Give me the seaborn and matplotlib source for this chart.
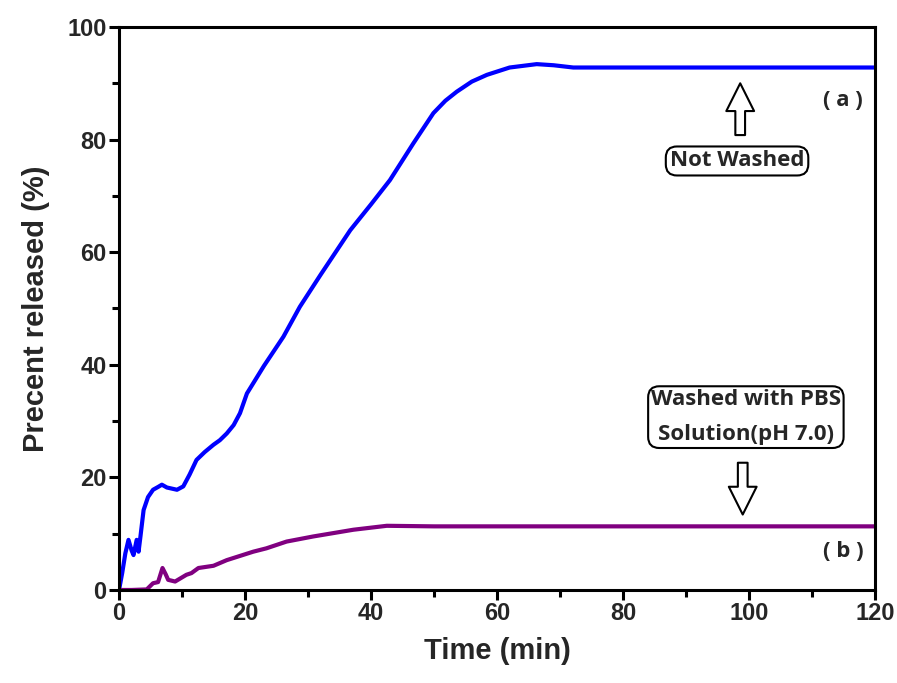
import numpy as np
import pandas as pd
import matplotlib
matplotlib.use("Agg")
import matplotlib.pyplot as plt
import seaborn as sns

# Data
time_a = [0, 0.5, 1.0, 1.5, 2.0, 2.3, 2.8, 3.1, 3.4, 3.9, 4.6, 5.4, 6.2, 6.8, 7.6, 8.4, 9.2, 10.2,
          11.2, 12.3, 13.6, 15.0, 16.0, 17.1, 18.2, 19.2, 20.3, 23.0, 26.1, 28.7, 32.0, 36.7, 40.0,
          43.0, 46.7, 49.9, 51.8, 53.6, 56.0, 58.4, 62.0, 66.3, 69.0, 72.1, 80.0, 90.0, 100.0, 110.0, 120.0]
rel_a = [0, 3.0, 6.5, 8.9, 7.0, 6.2, 8.9, 6.8, 9.5, 14.2, 16.5, 17.8, 18.3, 18.7, 18.2, 18.0, 17.8, 18.4,
         20.5, 23.1, 24.5, 25.8, 26.6, 27.8, 29.3, 31.4, 34.9, 39.8, 45.0, 50.3, 56.0, 63.9, 68.5,
         72.8, 79.3, 84.7, 86.9, 88.5, 90.3, 91.5, 92.8, 93.4, 93.2, 92.8, 92.8, 92.8, 92.8, 92.8, 92.8]

time_b = [0, 2.0, 4.4, 5.4, 6.2, 6.9, 7.4, 7.8, 8.9, 10.7, 11.5, 12.6, 15.0, 17.1, 21.3, 23.4, 26.6,
          30.8, 37.2, 42.5, 50.0, 60.0, 70.0, 80.0, 90.0, 100.0, 110.0, 120.0]
rel_b = [0, 0, 0.1, 1.2, 1.4, 3.9, 2.8, 1.8, 1.5, 2.7, 3.0, 3.9, 4.3, 5.3, 6.8, 7.4, 8.6,
         9.5, 10.7, 11.4, 11.3, 11.3, 11.3, 11.3, 11.3, 11.3, 11.3, 11.3]

x_ticks = [0, 20, 40, 60, 80, 100, 120]
y_ticks = [0, 20, 40, 60, 80, 100]

df = pd.concat([
    pd.DataFrame({"Time": time_a, "Release": rel_a, "Sample": "a"}),
    pd.DataFrame({"Time": time_b, "Release": rel_b, "Sample": "b"}),
])

sns.set_theme(style="white")
plt.rcParams["font.family"] = ["Liberation Sans", "DejaVu Sans"]

fig = plt.figure(figsize=(8.97, 6.83), dpi=100)
ax = fig.add_axes([0.1327, 0.1362, 0.8428, 0.8243])

sns.lineplot(data=df, x="Time", y="Release", hue="Sample",
             palette={"a": "#0000FF", "b": "#800080"}, linewidth=3.0,
             legend=False, ax=ax, sort=False, estimator=None)

ax.set_xlim(0, 120)
ax.set_ylim(0, 100)
ax.set_xticks(x_ticks)
ax.set_yticks(y_ticks)
ax.set_xticks(np.arange(10, 120, 20), minor=True)
ax.set_yticks(np.arange(10, 100, 20), minor=True)
for s in ax.spines.values():
    s.set_visible(True)
    s.set_color("black")
    s.set_linewidth(2.2)
ax.tick_params(which="major", direction="out", length=7, width=2.2, color="black",
               bottom=True, left=True, pad=2)
ax.tick_params(which="minor", direction="out", length=5, width=2.2, color="black",
               bottom=True, left=True)
for lab in ax.get_yticklabels():
    lab.set_fontweight("bold")
    lab.set_fontsize(17)
for lab in ax.get_xticklabels():
    lab.set_fontweight("bold")
    lab.set_fontsize(17)
ax.set_xlabel("Time (min)", fontsize=21, fontweight="bold", labelpad=8)
ax.set_ylabel("Precent released (%)", fontsize=21, fontweight="bold", labelpad=12)

txt_font = ["Open Sans", "DejaVu Sans"]
ax.text(98.1, 76.2, "Not Washed", ha="center", va="center", fontsize=16,
        fontweight="bold", family=txt_font,
        bbox=dict(boxstyle="round,pad=0.18,rounding_size=0.5", fc="white", ec="black", lw=1.5))
ax.text(99.5, 30.7, "Washed with PBS\nSolution(pH 7.0)", ha="center", va="center", fontsize=16,
        fontweight="bold", family=txt_font, linespacing=1.9,
        bbox=dict(boxstyle="round,pad=0.12,rounding_size=0.5", fc="white", ec="black", lw=1.5))
ax.text(114.9, 87.0, "( a )", ha="center", va="center", fontsize=16, fontweight="bold", family=txt_font)
ax.text(114.9, 6.9, "( b )", ha="center", va="center", fontsize=16, fontweight="bold", family=txt_font)

arrow_style = "simple,head_length=1.0,head_width=1.0,tail_width=0.35"
ax.annotate("", xy=(98.6, 90.0), xytext=(98.6, 80.8),
            arrowprops=dict(arrowstyle=arrow_style, fc="white", ec="black", lw=1.5,
                            shrinkA=0, shrinkB=0, mutation_scale=20))
ax.annotate("", xy=(99.0, 13.4), xytext=(99.0, 22.6),
            arrowprops=dict(arrowstyle=arrow_style, fc="white", ec="black", lw=1.5,
                            shrinkA=0, shrinkB=0, mutation_scale=20))

fig.savefig("out.png", dpi=100, facecolor="white")
